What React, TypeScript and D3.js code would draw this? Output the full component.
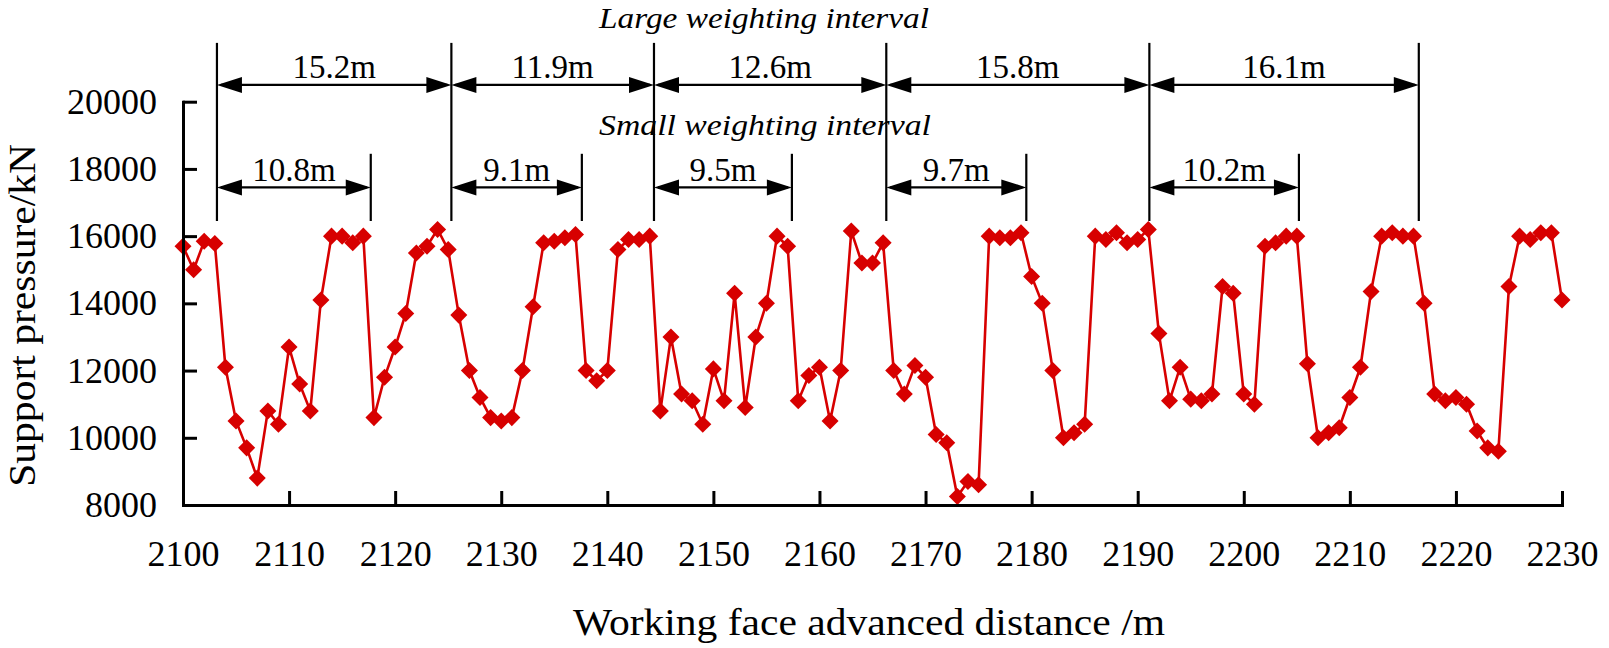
import { useRef, useEffect } from 'react';
import * as d3 from 'd3';

// Working face advanced distance (m)
const distance = [
  2100, 2101, 2102, 2103, 2104, 2105, 2106, 2107, 2108, 2109,
  2110, 2111, 2112, 2113, 2114, 2115, 2116, 2117, 2118, 2119,
  2120, 2121, 2122, 2123, 2124, 2125, 2126, 2127, 2128, 2129,
  2130, 2131, 2132, 2133, 2134, 2135, 2136, 2137, 2138, 2139,
  2140, 2141, 2142, 2143, 2144, 2145, 2146, 2147, 2148, 2149,
  2150, 2151, 2152, 2153, 2154, 2155, 2156, 2157, 2158, 2159,
  2160, 2161, 2162, 2163, 2164, 2165, 2166, 2167, 2168, 2169,
  2170, 2171, 2172, 2173, 2174, 2175, 2176, 2177, 2178, 2179,
  2180, 2181, 2182, 2183, 2184, 2185, 2186, 2187, 2188, 2189,
  2190, 2191, 2192, 2193, 2194, 2195, 2196, 2197, 2198, 2199,
  2200, 2201, 2202, 2203, 2204, 2205, 2206, 2207, 2208, 2209,
  2210, 2211, 2212, 2213, 2214, 2215, 2216, 2217, 2218, 2219,
  2220, 2221, 2222, 2223, 2224, 2225, 2226, 2227, 2228, 2229,
  2230,
];

// Support pressure (kN)
const pressure = [
  15700, 15000, 15850, 15780, 12100, 10500, 9700, 8800, 10800, 10400,
  12700, 11600, 10800, 14100, 16000, 16000, 15800, 16000, 10600, 11800,
  12700, 13700, 15500, 15700, 16200, 15600, 13650, 12000, 11200, 10600,
  10500, 10600, 12000, 13900, 15800, 15850, 15950, 16050, 12000, 11700,
  12000, 15600, 15900, 15900, 16000, 10800, 13000, 11300, 11100, 10400,
  12050, 11100, 14300, 10900, 13000, 14000, 16000, 15700, 11100, 11850,
  12100, 10500, 12000, 16150, 15200, 15200, 15800, 12000, 11300, 12150,
  11800, 10100, 9850, 8250, 8700, 8600, 16000, 15950, 15950, 16100,
  14800, 14000, 12000, 10000, 10150, 10400, 16000, 15900, 16100, 15800,
  15900, 16200, 13100, 11100, 12100, 11150, 11100, 11300, 14500, 14300,
  11300, 11000, 15700, 15800, 16000, 16000, 12200, 10000, 10150, 10300,
  11200, 12100, 14350, 16000, 16100, 16000, 16000, 14000, 11300, 11100,
  11200, 11000, 10200, 9700, 9600, 14500, 16000, 15900, 16100, 16100,
  14100,
];

const xTicks = [2100, 2110, 2120, 2130, 2140, 2150, 2160, 2170, 2180, 2190, 2200, 2210, 2220, 2230];
const yTicks = [8000, 10000, 12000, 14000, 16000, 18000, 20000];

// weighting intervals
const largeBounds = [2103.2, 2125.3, 2144.4, 2166.3, 2191.1, 2216.5];
const largeLabels = ['15.2m', '11.9m', '12.6m', '15.8m', '16.1m'];
const smallEnds = [2117.7, 2137.6, 2157.4, 2179.5, 2205.2];
const smallLabels = ['10.8m', '9.1m', '9.5m', '9.7m', '10.2m'];

const W = 1609;
const H = 648;
const RED = '#d70000';
const FONT = '"Liberation Serif", "Times New Roman", serif';

// annotation levels, in kN on the y scale
const LINE_TOP = 21750;
const LINE_BOTTOM = 16450;
const SMALL_TOP = 18450;
const LARGE_ARROW = 20500;
const SMALL_ARROW = 17450;

const x = d3.scaleLinear().domain([2100, 2230]).range([183, 1562]);
const y = d3.scaleLinear().domain([8000, 20000]).range([505, 101.7]);

function Arrow({ x1, x2, yy }: { x1: number; x2: number; yy: number }) {
  const hl = 25;
  const hw = 8;
  return (
    <g>
      <line x1={x1 + 4} x2={x2 - 4} y1={yy} y2={yy} stroke="#000" strokeWidth={2.2} />
      <path d={`M${x1},${yy}L${x1 + hl},${yy - hw}L${x1 + hl},${yy + hw}Z`} fill="#000" />
      <path d={`M${x2},${yy}L${x2 - hl},${yy - hw}L${x2 - hl},${yy + hw}Z`} fill="#000" />
    </g>
  );
}

export default function App() {
  const xAxisRef = useRef<SVGGElement>(null);
  const yAxisRef = useRef<SVGGElement>(null);

  useEffect(() => {
    if (!xAxisRef.current || !yAxisRef.current) return;

    const gx = d3.select(xAxisRef.current);
    gx.selectAll('*').remove();
    gx.call(
      d3.axisBottom(x)
        .tickValues(xTicks)
        .tickSizeInner(-14)
        .tickSizeOuter(0)
        .tickPadding(35)
        .tickFormat(d3.format('d'))
    );

    const gy = d3.select(yAxisRef.current);
    gy.selectAll('*').remove();
    gy.call(
      d3.axisLeft(y)
        .tickValues(yTicks)
        .tickSizeInner(-14)
        .tickSizeOuter(0)
        .tickPadding(26)
        .tickFormat(d3.format('d'))
    );

    [gx, gy].forEach((g) => {
      g.attr('font-family', FONT).attr('font-size', 36).attr('color', '#000');
      g.select('.domain').attr('stroke-width', 3).attr('stroke-linecap', 'square');
      g.selectAll('.tick line').attr('stroke-width', 3);
      g.selectAll('.tick text').attr('fill', '#000').attr('font-family', FONT);
    });
  }, []);

  const line = d3.line<number>()
    .x((_, i) => x(distance[i]))
    .y((d) => y(d));

  const diamond = d3.symbol(d3.symbolSquare, 145)();

  return (
    <div style={{ position: 'absolute', left: 0, top: 0 }}>
      <svg width={W} height={H} viewBox={'0 0 ' + W + ' ' + H} style={{ display: 'block', background: '#fff' }}>
        {/* interval annotations */}
        <g fontFamily={FONT} fill="#000">
          {largeBounds.map((b, i) => (
            <line key={'lb' + i} x1={x(b)} x2={x(b)} y1={y(LINE_TOP)} y2={y(LINE_BOTTOM)} stroke="#000" strokeWidth={2.2} />
          ))}
          {smallEnds.map((b, i) => (
            <line key={'se' + i} x1={x(b)} x2={x(b)} y1={y(SMALL_TOP)} y2={y(LINE_BOTTOM)} stroke="#000" strokeWidth={2.2} />
          ))}
          {largeLabels.map((t, i) => (
            <g key={'ll' + i}>
              <Arrow x1={x(largeBounds[i])} x2={x(largeBounds[i + 1])} yy={y(LARGE_ARROW)} />
              <text x={(x(largeBounds[i]) + x(largeBounds[i + 1])) / 2} y={y(LARGE_ARROW) - 7} textAnchor="middle" fontSize={33}>
                {t}
              </text>
            </g>
          ))}
          {smallLabels.map((t, i) => (
            <g key={'sl' + i}>
              <Arrow x1={x(largeBounds[i])} x2={x(smallEnds[i])} yy={y(SMALL_ARROW)} />
              <text x={(x(largeBounds[i]) + x(smallEnds[i])) / 2} y={y(SMALL_ARROW) - 6} textAnchor="middle" fontSize={33}>
                {t}
              </text>
            </g>
          ))}
          <text x={764} y={28} textAnchor="middle" fontSize={30} fontStyle="italic" textLength={330} lengthAdjust="spacingAndGlyphs">
            Large weighting interval
          </text>
          <text x={765} y={135} textAnchor="middle" fontSize={30} fontStyle="italic" textLength={332} lengthAdjust="spacingAndGlyphs">
            Small weighting interval
          </text>
        </g>

        {/* series */}
        <path d={line(pressure) || ''} fill="none" stroke={RED} strokeWidth={2.6} />
        {pressure.map((v, i) => (
          <path key={i} d={diamond || ''} transform={`translate(${x(distance[i])},${y(v)}) rotate(45)`} fill={RED} />
        ))}

        {/* axes */}
        <g ref={xAxisRef} transform={`translate(0,${y(8000)})`} />
        <g ref={yAxisRef} transform={`translate(${x(2100)},0)`} />

        <text x={869} y={635} textAnchor="middle" fontFamily={FONT} fontSize={37} textLength={592} lengthAdjust="spacingAndGlyphs">
          Working face advanced distance /m
        </text>
        <text
          transform={`translate(35,${(y(8000) + y(20000)) / 2 + 12}) rotate(-90)`}
          textAnchor="middle"
          fontFamily={FONT}
          fontSize={37}
          textLength={343}
          lengthAdjust="spacingAndGlyphs"
        >
          Support pressure/kN
        </text>
      </svg>
    </div>
  );
}
